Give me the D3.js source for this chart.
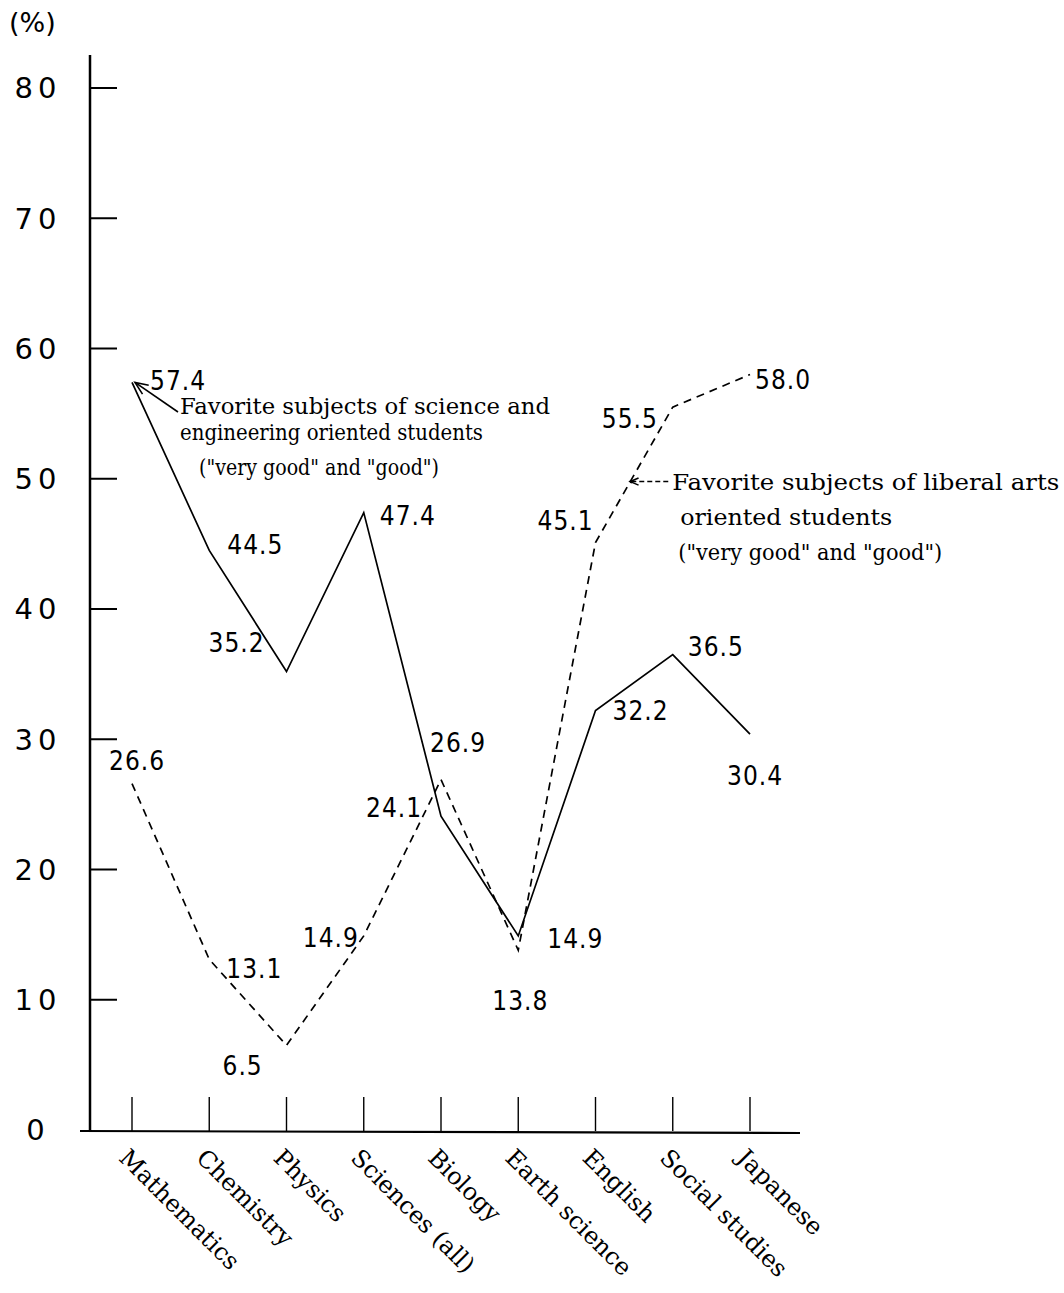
<!DOCTYPE html>
<html><head><meta charset="utf-8">
<script src="https://cdn.jsdelivr.net/npm/d3@7"></script>
<style>
html,body{margin:0;padding:0;background:#fff;}
svg{display:block;}
</style></head>
<body>
<script>
// ---- data ----
const categories = ["Mathematics","Chemistry","Physics","Sciences (all)","Biology","Earth science","English","Social studies","Japanese"];
const scienceValues = [57.4, 44.5, 35.2, 47.4, 24.1, 14.9, 32.2, 36.5, 30.4];
const liberalValues = [26.6, 13.1, 6.5, 14.9, 26.9, 13.8, 45.1, 55.5, 58.0];
const yTicks = [0,10,20,30,40,50,60,70,80];
const scienceNote = ["Favorite subjects of science and","engineering oriented  students","(\"very good\" and \"good\")"];
const liberalNote = ["Favorite subjects of liberal arts","oriented students","(\"very good\" and \"good\")"];

// label placement offsets (layout only)
const scienceLabelOffsets = [[18,8],[18,4],[-78,-20],[16,12],[-75,1],[29,12],[17,9],[15,1],[-23,51]];
const liberalLabelOffsets = [[-23,-14],[17,19],[-64,30],[-61,11],[-11,-28],[-26,60],[-58,-13],[-71,21],[5,14]];

const W = 1064, H = 1293;
const svg = d3.select("body").append("svg").attr("width", W).attr("height", H);

const x = d3.scalePoint().domain(categories).range([132, 750]);
const y = d3.scaleLinear().domain([0, 80]).range([1130, 88]);

const numFont = "'Liberation Sans Narrow','DejaVu Sans Condensed',sans-serif";
const serifFont = "'DejaVu Serif',serif";

// y axis
svg.append("line").attr("x1",90).attr("x2",90).attr("y1",55).attr("y2",1132)
  .attr("stroke","#000").attr("stroke-width",2.5);
svg.append("g").selectAll("line").data(yTicks.filter(d=>d>0)).join("line")
  .attr("x1",90).attr("x2",117).attr("y1",d=>y(d)).attr("y2",d=>y(d))
  .attr("stroke","#000").attr("stroke-width",2);
svg.append("g").selectAll("text").data(yTicks).join("text")
  .attr("x",38).attr("y",d=>y(d)).attr("dy","0.36em")
  .attr("text-anchor","middle")
  .attr("font-family","'DejaVu Sans',sans-serif").attr("font-size",29)
  .attr("letter-spacing",5)
  .text(d=>d);
svg.append("text").attr("x",9).attr("y",32).attr("font-family","'DejaVu Sans',sans-serif")
  .attr("font-size",27).text("(%)");

// x axis
svg.append("line").attr("x1",80).attr("x2",800).attr("y1",1131).attr("y2",1133)
  .attr("stroke","#000").attr("stroke-width",2.2);
svg.append("g").selectAll("line").data(categories).join("line")
  .attr("x1",d=>x(d)).attr("x2",d=>x(d)).attr("y1",1097).attr("y2",1131)
  .attr("stroke","#000").attr("stroke-width",1.4);
svg.append("g").selectAll("text").data(categories).join("text")
  .attr("transform",d=>`translate(${x(d)-1},${1146}) rotate(45)`)
  .attr("dy","0.78em")
  .attr("font-family",serifFont).attr("font-size",24)
  .text(d=>d);

// lines
const line = d3.line().x((d,i)=>x(categories[i])).y(d=>y(d));
svg.append("path").datum(scienceValues).attr("d",line)
  .attr("fill","none").attr("stroke","#000").attr("stroke-width",1.7);
svg.append("path").datum(liberalValues).attr("d",line)
  .attr("fill","none").attr("stroke","#000").attr("stroke-width",1.7)
  .attr("stroke-dasharray","8,6");

// value labels
function labels(vals, offs){
  svg.append("g").selectAll("text").data(vals).join("text")
    .attr("x",(d,i)=>x(categories[i])+offs[i][0])
    .attr("y",(d,i)=>y(d)+offs[i][1])
    .attr("font-family",numFont).attr("font-size",26).attr("letter-spacing",1)
    .text(d=>d.toFixed(1));
}
labels(scienceValues, scienceLabelOffsets);
labels(liberalValues, liberalLabelOffsets);

// science annotation arrow
const tip1 = [x(categories[0])+3, y(scienceValues[0])];
const tail1 = [178, 412];
svg.append("line").attr("x1",tail1[0]).attr("y1",tail1[1]).attr("x2",tip1[0]).attr("y2",tip1[1])
  .attr("stroke","#000").attr("stroke-width",1.6);
function arrowHead(tip, tail, len){
  const a = Math.atan2(tail[1]-tip[1], tail[0]-tip[0]);
  const p = (da)=>[tip[0]+len*Math.cos(a+da), tip[1]+len*Math.sin(a+da)];
  const p1 = p(0.4), p2 = p(-0.4);
  svg.append("path").attr("d",`M${p1}L${tip}L${p2}`).attr("fill","none")
    .attr("stroke","#000").attr("stroke-width",1.6);
}
arrowHead(tip1, tail1, 14);

const note1Widths = [370, 303, 240];
const note1Pos = [[180,414],[180,440],[199,475]];
scienceNote.forEach((t,i)=>{
  svg.append("text").attr("x",note1Pos[i][0]).attr("y",note1Pos[i][1])
    .attr("font-family",serifFont).attr("font-size",23)
    .attr("textLength",note1Widths[i]).attr("lengthAdjust","spacingAndGlyphs")
    .text(t);
});

// liberal annotation arrow (tip on the dashed English->Social segment)
const t = 0.45;
const tip2 = [x(categories[6]) + t*(x(categories[7])-x(categories[6])),
              y(liberalValues[6]) + t*(y(liberalValues[7])-y(liberalValues[6]))];
const tail2 = [tip2[0]+38, tip2[1]];
svg.append("line").attr("x1",tail2[0]).attr("y1",tail2[1]).attr("x2",tip2[0]).attr("y2",tip2[1])
  .attr("stroke","#000").attr("stroke-width",1.5).attr("stroke-dasharray","5,3");
arrowHead(tip2, tail2, 9);
svg.append("circle").attr("cx",tip2[0]+1).attr("cy",tip2[1]).attr("r",1.8).attr("fill","#000");

const note2Widths = [387, 212, 264];
const note2Pos = [[tip2[0]+42, tip2[1]+8],[tip2[0]+50, tip2[1]+43],[tip2[0]+48, tip2[1]+78]];
liberalNote.forEach((s,i)=>{
  svg.append("text").attr("x",note2Pos[i][0]).attr("y",note2Pos[i][1])
    .attr("font-family",serifFont).attr("font-size",23)
    .attr("textLength",note2Widths[i]).attr("lengthAdjust","spacingAndGlyphs")
    .text(s);
});
</script>
</body></html>
